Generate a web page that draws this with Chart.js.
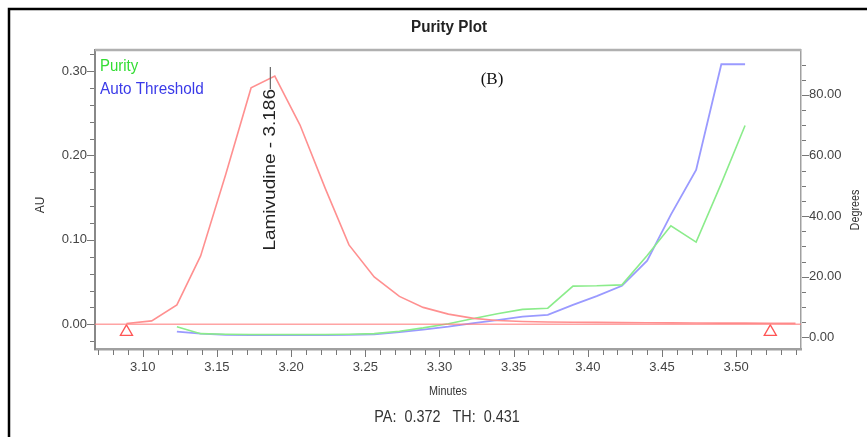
<!DOCTYPE html>
<html>
<head>
<meta charset="utf-8">
<script src="https://cdn.jsdelivr.net/npm/chart.js@4.4.0/dist/chart.umd.min.js"></script>
<style>
  html, body { margin: 0; padding: 0; background: #fff; }
  #wrap { position: relative; width: 867px; height: 437px; }
</style>
</head>
<body>
<div id="wrap"><canvas id="chart-purity"></canvas></div>
<script>
// Tiempos (minutos) de cada punto
const minutes = [3.089, 3.106, 3.123, 3.139, 3.156, 3.173, 3.189, 3.206, 3.223, 3.239,
                 3.256, 3.273, 3.289, 3.306, 3.323, 3.339, 3.356, 3.373, 3.390, 3.406,
                 3.423, 3.440, 3.456, 3.473, 3.490, 3.506, 3.523, 3.540];
// Absorbancia (AU), eje izquierdo
const auValues = [0.001, 0.004, 0.023, 0.081, 0.178, 0.280, 0.294, 0.236, 0.161, 0.094,
                  0.056, 0.033, 0.020, 0.012, 0.007, 0.0045, 0.0033, 0.0027, 0.0024, 0.0022,
                  0.0020, 0.0018, 0.0016, 0.0015, 0.0014, 0.0013, 0.0012, 0.0010];
// Purity y Auto Threshold (grados), eje derecho
const purityValues = [null, null, 3.5, 1.2, 1.0, 0.9, 0.9, 0.9, 0.9, 1.0,
                      1.2, 2.0, 3.1, 4.5, 6.2, 7.8, 9.2, 9.6, 16.9, 17.0,
                      17.3, 27.0, 36.8, 31.4, 50.8, 69.9, null, null];
const thresholdValues = [null, null, 1.9, 1.2, 0.8, 0.7, 0.7, 0.7, 0.7, 0.8,
                         1.0, 1.7, 2.5, 3.5, 4.7, 5.7, 6.8, 7.4, 10.7, 13.6,
                         17.0, 25.3, 40.5, 55.2, 90.1, 90.1, null, null];
// Marcas de inicio/fin del pico
const peakMarks = [3.089, 3.523];
const peakMarkAU = -0.009;
const peakTime = 3.186;
const peakName = 'Lamivudine - 3.186';
const baselineAU = 0;

// Rangos de ejes
const xMin = 3.0678, xMax = 3.5437;
const auMin = -0.0293, auMax = 0.3249;
const degMin = -3.86, degMax = 94.8;

const SANS = '"Liberation Sans", Arial, sans-serif';

function toPoints(xs, ys) {
    return xs.map((x, i) => ({ x: x, y: ys[i] }));
}

function stepTicks(from, to, step) {
    const out = [];
    const n = Math.round((to - from) / step);
    for (let i = 0; i <= n; i++) out.push({ value: +(from + i * step).toFixed(4) });
    return out;
}

function isMultiple(v, m) {
    return Math.abs(v / m - Math.round(v / m)) < 1e-6;
}

// texto algo estrecho (como el original)
function narrowText(ctx, txt, x, y, sx) {
    ctx.save();
    ctx.translate(x, y);
    ctx.scale(sx, 1);
    ctx.fillText(txt, 0, 0);
    ctx.restore();
}

// Dibuja ticks mayores/menores, marco y textos
const decorPlugin = {
    id: 'decor',
    beforeDraw(chart) {
        const ctx = chart.ctx;
        ctx.save();
        ctx.fillStyle = '#fff';
        ctx.fillRect(0, 0, chart.width, chart.height);
        ctx.strokeStyle = '#000';
        ctx.lineWidth = 2.5;
        ctx.beginPath();
        ctx.moveTo(9, chart.height);
        ctx.lineTo(9, 9);
        ctx.lineTo(chart.width, 9);
        ctx.stroke();
        ctx.restore();
    },
    afterDraw(chart) {
        const ctx = chart.ctx;
        const a = chart.chartArea;
        const sx = chart.scales.x, sy = chart.scales.y, sy2 = chart.scales.y2;
        ctx.save();

        // linea superior del marco
        ctx.strokeStyle = '#b0b0b0';
        ctx.lineWidth = 2.5;
        ctx.beginPath();
        ctx.moveTo(a.left, a.top);
        ctx.lineTo(a.right, a.top);
        ctx.stroke();

        // ticks
        ctx.strokeStyle = '#777';
        ctx.lineWidth = 1;
        ctx.beginPath();
        sx.ticks.forEach(t => {
            const px = Math.round(sx.getPixelForValue(t.value)) + 0.5;
            const len = isMultiple(t.value, 0.05) ? 7 : 5;
            ctx.moveTo(px, a.bottom + 1);
            ctx.lineTo(px, a.bottom + 1 + len);
        });
        sy.ticks.forEach(t => {
            const py = Math.round(sy.getPixelForValue(t.value)) + 0.5;
            const len = isMultiple(t.value, 0.1) ? 7 : 4;
            ctx.moveTo(a.left - 1, py);
            ctx.lineTo(a.left - 1 - len, py);
        });
        sy2.ticks.forEach(t => {
            const py = Math.round(sy2.getPixelForValue(t.value)) + 0.5;
            const len = isMultiple(t.value, 20) ? 7 : 4;
            ctx.moveTo(a.right + 1, py);
            ctx.lineTo(a.right + 1 + len, py);
        });
        ctx.stroke();

        // etiqueta del pico
        const peakX = sx.getPixelForValue(peakTime);
        ctx.strokeStyle = '#666';
        ctx.lineWidth = 1.2;
        ctx.beginPath();
        ctx.moveTo(peakX, sy.getPixelForValue(0.3047));
        ctx.lineTo(peakX, 89);
        ctx.stroke();
        ctx.save();
        ctx.translate(peakX, 89);
        ctx.rotate(-Math.PI / 2);
        ctx.fillStyle = '#222';
        ctx.font = '19px ' + SANS;
        ctx.textAlign = 'right';
        ctx.textBaseline = 'middle';
        ctx.scale(1, 0.85);
        ctx.fillText(peakName, 0, 0);
        ctx.restore();

        // titulo
        ctx.fillStyle = '#222';
        ctx.textAlign = 'center';
        ctx.textBaseline = 'middle';
        ctx.font = 'bold 16px ' + SANS;
        narrowText(ctx, 'Purity Plot', 449, 28, 0.95);

        // leyenda
        ctx.textAlign = 'left';
        ctx.font = '17px ' + SANS;
        ctx.fillStyle = '#33dd33';
        narrowText(ctx, 'Purity', 100, 66, 0.88);
        ctx.fillStyle = '#3a3ae8';
        narrowText(ctx, 'Auto Threshold', 100, 89, 0.9);

        // (B)
        ctx.fillStyle = '#111';
        ctx.textAlign = 'center';
        ctx.font = '17px "Liberation Serif", "Times New Roman", serif';
        ctx.fillText('(B)', 492, 80);

        // titulos de ejes
        ctx.fillStyle = '#333';
        ctx.font = '12px ' + SANS;
        narrowText(ctx, 'Minutes', 448, 392, 0.9);
        ctx.save();
        ctx.translate(41, 205);
        ctx.rotate(-Math.PI / 2);
        ctx.fillText('AU', 0, 0);
        ctx.restore();
        ctx.save();
        ctx.translate(856, 210);
        ctx.rotate(-Math.PI / 2);
        ctx.scale(0.9, 1);
        ctx.fillText('Degrees', 0, 0);
        ctx.restore();

        // PA / TH
        ctx.font = '16px ' + SANS;
        ctx.fillStyle = '#333';
        narrowText(ctx, 'PA:  0.372   TH:  0.431', 447, 418, 0.9);

        ctx.restore();
    }
};

const tickFont = { family: SANS, size: 13 };

new Chart(document.getElementById('chart-purity'), {
    type: 'line',
    data: {
        datasets: [
            {
                label: 'baseline',
                data: [{ x: xMin, y: baselineAU }, { x: xMax, y: baselineAU }],
                borderColor: 'rgba(255,125,125,0.7)',
                borderWidth: 1.5,
                pointRadius: 0,
                yAxisID: 'y'
            },
            {
                label: 'AU',
                data: toPoints(minutes, auValues),
                borderColor: '#ff9090',
                borderWidth: 1.6,
                pointRadius: 0,
                yAxisID: 'y'
            },
            {
                label: 'Purity',
                data: toPoints(minutes, purityValues),
                borderColor: '#8bec8b',
                borderWidth: 1.6,
                pointRadius: 0,
                yAxisID: 'y2'
            },
            {
                label: 'Auto Threshold',
                data: toPoints(minutes, thresholdValues),
                borderColor: '#9a9aff',
                borderWidth: 1.8,
                pointRadius: 0,
                yAxisID: 'y2'
            },
            {
                label: 'marks',
                type: 'scatter',
                data: peakMarks.map(t => ({ x: t, y: peakMarkAU })),
                pointStyle: 'triangle',
                pointRadius: 7,
                pointBorderColor: '#ff5555',
                pointBackgroundColor: 'rgba(0,0,0,0)',
                pointBorderWidth: 1.3,
                yAxisID: 'y',
                clip: false
            }
        ]
    },
    options: {
        responsive: true,
        maintainAspectRatio: false,
        animation: false,
        layout: { padding: { top: 50, left: 0, right: 0, bottom: 0 } },
        plugins: {
            legend: { display: false },
            tooltip: { enabled: false }
        },
        elements: { line: { tension: 0 } },
        scales: {
            x: {
                type: 'linear',
                position: 'bottom',
                min: xMin,
                max: xMax,
                afterBuildTicks: s => { s.ticks = stepTicks(3.07, 3.54, 0.01); },
                afterFit: s => { s.height = 88; },
                grid: { drawOnChartArea: false, drawTicks: false },
                border: { display: true, color: '#a0a0a0', width: 2.5 },
                ticks: {
                    autoSkip: false,
                    maxRotation: 0,
                    padding: 11,
                    color: '#444',
                    font: tickFont,
                    callback: v => isMultiple(v, 0.05) ? v.toFixed(2) : ''
                }
            },
            y: {
                type: 'linear',
                position: 'left',
                min: auMin,
                max: auMax,
                afterBuildTicks: s => { s.ticks = stepTicks(-0.02, 0.32, 0.02); },
                afterFit: s => { s.width = 95; },
                grid: { drawOnChartArea: false, drawTicks: false },
                border: { display: true, color: '#888', width: 2 },
                ticks: {
                    autoSkip: false,
                    padding: 8,
                    color: '#444',
                    font: tickFont,
                    callback: v => isMultiple(v, 0.1) ? v.toFixed(2) : ''
                }
            },
            y2: {
                type: 'linear',
                position: 'right',
                min: degMin,
                max: degMax,
                afterBuildTicks: s => { s.ticks = stepTicks(0, 90, 5); },
                afterFit: s => { s.width = 66; },
                grid: { drawOnChartArea: false, drawTicks: false },
                border: { display: true, color: '#a0a0a0', width: 1.5 },
                ticks: {
                    autoSkip: false,
                    padding: 8,
                    color: '#444',
                    font: tickFont,
                    callback: v => isMultiple(v, 20) ? v.toFixed(2) : ''
                }
            }
        }
    },
    plugins: [decorPlugin]
});
</script>
</body>
</html>
